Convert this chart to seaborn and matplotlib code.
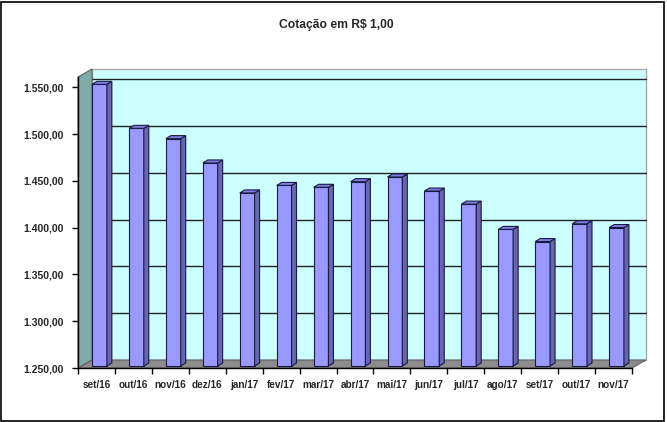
import matplotlib
matplotlib.use("Agg")
import matplotlib.pyplot as plt
import seaborn as sns
import numpy as np
from matplotlib.patches import Polygon, Rectangle
from matplotlib.transforms import offset_copy, IdentityTransform

## Cotação em R$ 1,00
meses = ["set/16", "out/16", "nov/16", "dez/16", "jan/17", "fev/17", "mar/17", "abr/17",
         "mai/17", "jun/17", "jul/17", "ago/17", "set/17", "out/17", "nov/17"]
cotacao = [1551, 1504, 1493, 1467, 1435, 1443, 1441, 1447, 1452, 1437, 1423, 1396, 1383, 1402, 1398]
yticks = [1250, 1300, 1350, 1400, 1450, 1500, 1550]
ytick_labels = ["1.250,00", "1.300,00", "1.350,00", "1.400,00", "1.450,00", "1.500,00", "1.550,00"]

sns.set_style("white")
plt.rcParams["font.family"] = ["Liberation Sans", "DejaVu Sans"]

fig = plt.figure(figsize=(6.67, 4.22), dpi=100)
ax = fig.add_axes([78 / 667, 54 / 422, 554 / 667, 291 / 422])
ax.patch.set_visible(False)
YMIN, YMAX = 1250, 1561

# profundidade 3D (pixels)
wdx, wdy = 14, 8     # paredes
bdx, bdy = 5, 3      # barras
bfx, bfy = 3, 2      # recuo da face frontal das barras

# barras primeiro (para pegar os patches do seaborn)
sns.barplot(x=meses, y=cotacao, color="#9999FF", saturation=1, width=0.4,
            edgecolor="#1A1A40", linewidth=0.8, ax=ax, zorder=3)
bars = list(ax.patches)
ax.set_xlim(-0.5, len(meses) - 0.5)
ax.set_ylim(YMIN, YMAX)

back = offset_copy(ax.transAxes, fig=fig, x=wdx, y=wdy, units="dots")
ax.add_patch(Rectangle((0, 0), 1, 1, transform=back, facecolor="#CCFFFF",
                       edgecolor="#A8A8A8", lw=1, zorder=0, clip_on=False))

# linhas de grade na parede do fundo
back_data = offset_copy(ax.transData, fig=fig, x=wdx, y=wdy, units="dots")
for t in yticks[1:]:
    ax.plot([-0.5, len(meses) - 0.5], [t, t], color="#222222", lw=1,
            transform=back_data, zorder=0.5, clip_on=False)

# parede lateral e piso
def px(pt):
    return ax.transAxes.transform(pt)

a0, a1, b0 = px((0, 0)), px((0, 1)), px((1, 0))
side = [a0, a1, a1 + [wdx, wdy], a0 + [wdx, wdy]]
ax.add_patch(Polygon(side, closed=True, transform=IdentityTransform(), facecolor="#80ABAB",
                     edgecolor="#606060", lw=0.8, zorder=0.6, clip_on=False))
floor = [a0, b0, b0 + [wdx, wdy], a0 + [wdx, wdy]]
ax.add_patch(Polygon(floor, closed=True, transform=IdentityTransform(), facecolor="#8C8C8C",
                     edgecolor="#606060", lw=0.8, zorder=0.6, clip_on=False))

front = offset_copy(ax.transData, fig=fig, x=bfx, y=bfy, units="dots")
d = np.array([bdx, bdy])
for p, v in zip(bars, cotacao):
    p.set_y(YMIN)
    p.set_height(v - YMIN)
    p.set_transform(front)
    p.set_clip_on(False)
    x0, x1 = p.get_x(), p.get_x() + p.get_width()
    br = front.transform((x1, YMIN))
    tl, tr = front.transform((x0, v)), front.transform((x1, v))
    ax.add_patch(Polygon([br, tr, tr + d, br + d], closed=True, transform=IdentityTransform(),
                         facecolor="#6666B3", edgecolor="#1A1A40", lw=0.8, zorder=3, clip_on=False))
    ax.add_patch(Polygon([tl, tr, tr + d, tl + d], closed=True, transform=IdentityTransform(),
                         facecolor="#7F7FE6", edgecolor="#1A1A40", lw=0.8, zorder=3, clip_on=False))

# eixos
for s in ["top", "right"]:
    ax.spines[s].set_visible(False)
for s in ["left", "bottom"]:
    ax.spines[s].set_visible(True)
    ax.spines[s].set_color("black")
    ax.spines[s].set_linewidth(1)
ax.set_yticks(yticks)
ax.set_yticklabels(ytick_labels, fontsize=7.5, fontweight="bold")
ax.set_xticks(range(len(meses)))
ax.set_xticklabels(meses, fontsize=7.2, fontweight="bold")
ax.set_xticks(np.arange(-0.5, len(meses)), minor=True)
ax.tick_params(axis="y", which="major", direction="out", length=4, width=1, color="black", pad=6, left=True)
ax.tick_params(axis="x", which="major", length=0, pad=9)
ax.tick_params(axis="x", which="minor", direction="out", length=4, width=1, color="black", bottom=True)
ax.set_xlabel("")
ax.set_ylabel("")

fig.text(336 / 667, 1 - 25 / 422, "Cotação em R$ 1,00", ha="center", va="center",
         fontsize=8.7, fontweight="bold")
fig.patches.append(Rectangle((0.002, 0.003), 0.994, 0.993, transform=fig.transFigure,
                             fill=False, edgecolor="black", lw=1.2))

fig.savefig("out.png", dpi=100)
